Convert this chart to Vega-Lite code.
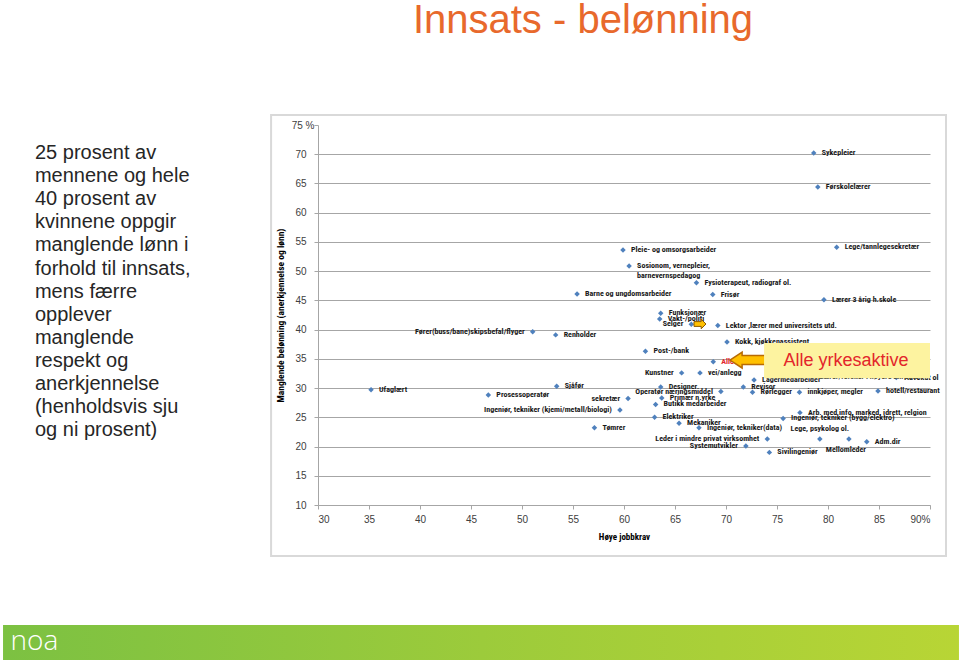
{
  "$schema": "https://vega.github.io/schema/vega-lite/v6.json",
  "width": 612,
  "height": 380,
  "autosize": {"type": "none"},
  "padding": {"left": 318, "top": 125, "right": 29, "bottom": 161},
  "background": "white",
  "config": {"view": {"stroke": null}, "font": "Liberation Sans"},
  "resolve": {"axis": {"x": "independent", "y": "independent"}},
  "datasets": {
    "jobs": [
      {"name": "Sykepleier", "x": 78.6, "y": 70.2},
      {"name": "Førskolelærer", "x": 79.0, "y": 64.4},
      {"name": "Lege/tannlegesekretær", "x": 80.85, "y": 54.1},
      {"name": "Pleie- og omsorgsarbeider", "x": 59.9, "y": 53.6},
      {"name": "Sosionom, vernepleier,\nbarnevernspedagog", "x": 60.5, "y": 50.9},
      {"name": "Fysioterapeut, radiograf ol.", "x": 67.1, "y": 48.0},
      {"name": "Barne og ungdomsarbeider", "x": 55.4, "y": 46.1},
      {"name": "Frisør", "x": 68.7, "y": 46.0},
      {"name": "Lærer 3 årig h.skole", "x": 79.6, "y": 45.1},
      {"name": "Funksjonær", "x": 63.6, "y": 42.8},
      {"name": "Vakt-/politi", "x": 63.5, "y": 41.8},
      {"name": "Selger", "x": 66.6, "y": 40.9},
      {"name": "Lektor ,lærer med universitets utd.", "x": 69.2, "y": 40.7},
      {"name": "Fører(buss/bane)skipsbefal/flyger", "x": 51.05, "y": 39.65},
      {"name": "Renholder", "x": 53.3, "y": 39.1},
      {"name": "Kokk, kjøkkenassistent", "x": 70.1, "y": 37.9},
      {"name": "Post-/bank", "x": 62.1, "y": 36.3},
      {"name": "Alle yrkesaktive", "x": 68.75, "y": 34.5},
      {"name": "Kunstner", "x": 65.65, "y": 32.6},
      {"name": "vei/anlegg", "x": 67.45, "y": 32.6},
      {"name": "Lærer/forsker i høyere univ.utd", "x": 78.4, "y": 31.9},
      {"name": "Advokat ol", "x": 86.7, "y": 31.8},
      {"name": "Lagermedarbeider", "x": 72.75, "y": 31.4},
      {"name": "Sjåfør", "x": 53.4, "y": 30.3},
      {"name": "Designer", "x": 63.6, "y": 30.2},
      {"name": "Revisor", "x": 71.7, "y": 30.2},
      {"name": "Ufaglært", "x": 35.2, "y": 29.7},
      {"name": "hotell/restaurant", "x": 84.9, "y": 29.5},
      {"name": "Operatør næringsmiddel", "x": 69.5, "y": 29.4},
      {"name": "Rørlegger", "x": 72.6, "y": 29.3},
      {"name": "innkjøper, megler", "x": 77.2, "y": 29.3},
      {"name": "Prosessoperatør", "x": 46.7, "y": 28.8},
      {"name": "Primær n.yrke", "x": 63.7, "y": 28.3},
      {"name": "sekretær", "x": 60.4, "y": 28.2},
      {"name": "Butikk medarbeider", "x": 63.1, "y": 27.2},
      {"name": "Ingeniør, tekniker (kjemi/metall/biologi)", "x": 59.6, "y": 26.25},
      {"name": "Arb. med info, marked, idrett, relgion", "x": 77.25, "y": 25.8},
      {"name": "Elektriker", "x": 63.0, "y": 25.0},
      {"name": "Ingeniør, tekniker (bygg/elektro)", "x": 75.6, "y": 24.8},
      {"name": "Mekaniker", "x": 65.4, "y": 24.0},
      {"name": "Ingeniør, tekniker(data)", "x": 67.35, "y": 23.2},
      {"name": "Tømrer", "x": 57.1, "y": 23.2},
      {"name": "Lege, psykolog ol.", "x": 79.2, "y": 21.3},
      {"name": "Mellomleder", "x": 82.05, "y": 21.3},
      {"name": "Leder i mindre privat virksomhet", "x": 74.05, "y": 21.3},
      {"name": "Adm.dir", "x": 83.8, "y": 20.8},
      {"name": "Systemutvikler", "x": 71.95, "y": 20.1},
      {"name": "Sivilingeniør", "x": 74.25, "y": 19.0}
    ]
  },
  "layer": [
    {
      "data": {"name": "jobs"},
      "mark": {"type": "point", "shape": "diamond", "filled": true, "size": 30, "color": "#4F81BD", "opacity": 1, "clip": false},
      "encoding": {
        "x": {
          "field": "x", "type": "quantitative", "title": "Høye jobbkrav",
          "scale": {"domain": [30, 90], "nice": false, "zero": false},
          "axis": {
            "values": [30, 35, 40, 45, 50, 55, 60, 65, 70, 75, 80, 85, 90],
            "labelExpr": "datum.value == 90 ? '90%' : datum.label",
            "grid": false, "domainColor": "#A6A6A6", "tickColor": "#A6A6A6", "tickSize": 4,
            "labelPadding": 5, "labelFontSize": 10, "labelColor": "#404040", "labelFont": "Liberation Sans",
            "titleFontSize": 9, "titleFontWeight": "bold", "titleColor": "#000000", "titlePadding": 8,
            "titleFont": "Liberation Sans Narrow, Roboto Condensed, DejaVu Sans Condensed, Liberation Sans"
          }
        },
        "y": {
          "field": "y", "type": "quantitative", "title": "Manglende belønning (anerkjennelse og lønn)",
          "scale": {"domain": [10, 75], "nice": false, "zero": false},
          "axis": {
            "values": [10, 15, 20, 25, 30, 35, 40, 45, 50, 55, 60, 65, 70, 75],
            "labelExpr": "datum.value == 75 ? '75 %' : datum.label",
            "labelOverlap": false,
            "grid": true, "gridColor": "#A6A6A6", "gridWidth": 1,
            "gridOpacity": {"condition": {"test": "datum.value == 75", "value": 0}, "value": 1},
            "domainColor": "#A6A6A6", "tickColor": "#A6A6A6", "tickSize": 4,
            "labelPadding": {"condition": {"test": "datum.value == 75", "value": 0}, "value": 8},
            "labelFontSize": 10, "labelColor": "#404040", "labelFont": "Liberation Sans",
            "titleFontSize": 9.5, "titleFontWeight": "bold", "titleColor": "#000000", "titlePadding": 6,
            "titleFont": "Liberation Sans Narrow, Roboto Condensed, DejaVu Sans Condensed, Liberation Sans"
          }
        }
      }
    },
    {
      "data": {"values": [{}]},
      "mark": {"type": "rect", "fill": "white", "fillOpacity": 0, "stroke": "#D9D9D9", "strokeWidth": 2, "clip": false},
      "encoding": {"x": {"datum": 25.4, "axis": null}, "x2": {"datum": 91.57}, "y": {"datum": 76.7, "axis": null}, "y2": {"datum": 1.27}}
    },
    {
      "data": {"values": [{}]},
      "mark": {
        "type": "rect", "clip": false,
        "fill": {"gradient": "linear", "x1": 0, "x2": 1, "y1": 0, "y2": 0,
          "stops": [{"offset": 0, "color": "#7CC142"}, {"offset": 0.5, "color": "#9CCB3B"}, {"offset": 1, "color": "#B8D535"}]}
      },
      "encoding": {"x": {"datum": -0.88, "axis": null}, "x2": {"datum": 92.84}, "y": {"datum": -10.53, "axis": null}, "y2": {"datum": -16.5}}
    },
    {
      "data": {"values": [{"label": "noa"}]},
      "mark": {"type": "text", "clip": false, "color": "white", "font": "Open Sans", "fontSize": 28, "fontWeight": 300, "align": "center", "baseline": "middle"},
      "encoding": {"x": {"datum": 2.2, "axis": null}, "y": {"datum": -13.4, "axis": null}, "text": {"field": "label"}}
    },
    {
      "data": {"values": [{"label": "Innsats - belønning"}]},
      "mark": {"type": "text", "clip": false, "color": "#E8692C", "font": "Liberation Sans", "fontSize": 40, "align": "center", "baseline": "alphabetic"},
      "encoding": {"x": {"datum": 55.98, "axis": null}, "y": {"datum": 90.74, "axis": null}, "text": {"field": "label"}}
    },
    {
      "data": {"values": [{"label": "25 prosent av\nmennene og hele\n40 prosent av\nkvinnene oppgir\nmanglende lønn i\nforhold til innsats,\nmens færre\nopplever\nmanglende\nrespekt og\nanerkjennelse\n(henholdsvis sju\nog ni prosent)"}]},
      "mark": {"type": "text", "clip": false, "color": "#262626", "font": "Liberation Sans", "fontSize": 20, "lineHeight": 23.1, "lineBreak": "\n", "align": "left", "baseline": "middle"},
      "encoding": {"x": {"datum": 2.25, "axis": null}, "y": {"datum": 70.2, "axis": null}, "text": {"field": "label"}}
    },
    {
      "data": {"name": "jobs"},
      "transform": [{"filter": {"not": {"field": "name", "oneOf": ["Fører(buss/bane)skipsbefal/flyger", "sekretær", "Ingeniør, tekniker (kjemi/metall/biologi)", "Selger", "Kunstner", "Operatør næringsmiddel", "Leder i mindre privat virksomhet", "Systemutvikler", "Lege, psykolog ol.", "Mellomleder", "Alle yrkesaktive"]}}}],
      "mark": {"type": "text", "clip": false, "align": "left", "baseline": "middle", "dx": 8, "fontSize": 8, "fontWeight": "bold", "color": "#1A1A1A", "lineBreak": "\n", "font": "Liberation Sans Narrow, Roboto Condensed, DejaVu Sans Condensed, Liberation Sans"},
      "encoding": {"x": {"field": "x", "type": "quantitative", "axis": null}, "y": {"field": "y", "type": "quantitative", "axis": null}, "text": {"field": "name"}}
    },
    {
      "data": {"name": "jobs"},
      "transform": [{"filter": {"field": "name", "oneOf": ["Fører(buss/bane)skipsbefal/flyger", "sekretær", "Ingeniør, tekniker (kjemi/metall/biologi)", "Selger", "Kunstner", "Operatør næringsmiddel", "Leder i mindre privat virksomhet", "Systemutvikler"]}}],
      "mark": {"type": "text", "clip": false, "align": "right", "baseline": "middle", "dx": -8, "fontSize": 8, "fontWeight": "bold", "color": "#1A1A1A", "font": "Liberation Sans Narrow, Roboto Condensed, DejaVu Sans Condensed, Liberation Sans"},
      "encoding": {"x": {"field": "x", "type": "quantitative", "axis": null}, "y": {"field": "y", "type": "quantitative", "axis": null}, "text": {"field": "name"}}
    },
    {
      "data": {"name": "jobs"},
      "transform": [{"filter": {"field": "name", "equal": "Lege, psykolog ol."}}],
      "mark": {"type": "text", "clip": false, "align": "center", "baseline": "middle", "dy": -10, "fontSize": 8, "fontWeight": "bold", "color": "#1A1A1A", "font": "Liberation Sans Narrow, Roboto Condensed, DejaVu Sans Condensed, Liberation Sans"},
      "encoding": {"x": {"field": "x", "type": "quantitative", "axis": null}, "y": {"field": "y", "type": "quantitative", "axis": null}, "text": {"field": "name"}}
    },
    {
      "data": {"name": "jobs"},
      "transform": [{"filter": {"field": "name", "equal": "Mellomleder"}}],
      "mark": {"type": "text", "clip": false, "align": "center", "baseline": "middle", "dy": 11, "dx": -3, "fontSize": 8, "fontWeight": "bold", "color": "#1A1A1A", "font": "Liberation Sans Narrow, Roboto Condensed, DejaVu Sans Condensed, Liberation Sans"},
      "encoding": {"x": {"field": "x", "type": "quantitative", "axis": null}, "y": {"field": "y", "type": "quantitative", "axis": null}, "text": {"field": "name"}}
    },
    {
      "data": {"name": "jobs"},
      "transform": [{"filter": {"field": "name", "equal": "Alle yrkesaktive"}}],
      "mark": {"type": "text", "clip": false, "align": "left", "baseline": "middle", "dx": 8, "fontSize": 8, "fontWeight": "bold", "color": "#E3262B", "font": "Liberation Sans Narrow, Roboto Condensed, DejaVu Sans Condensed, Liberation Sans"},
      "encoding": {"x": {"field": "x", "type": "quantitative", "axis": null}, "y": {"field": "y", "type": "quantitative", "axis": null}, "text": {"field": "name"}}
    },
    {
      "data": {"values": [{}]},
      "mark": {"type": "point", "clip": false, "filled": true, "shape": "M -1 0 L -0.36 -0.42 L -0.36 -0.24 L 1 -0.24 L 1 0.24 L -0.36 0.24 L -0.36 0.42 Z", "size": 1444, "fill": "#FFC000", "stroke": "#B86A04", "strokeWidth": 1.5, "opacity": 1},
      "encoding": {"x": {"datum": 72.25, "axis": null}, "y": {"datum": 34.8, "axis": null}}
    },
    {
      "data": {"values": [{}]},
      "mark": {"type": "point", "clip": false, "filled": true, "shape": "M 1 0 L 0.2 -0.8 L 0.2 -0.4 L -1 -0.4 L -1 0.4 L 0.2 0.4 L 0.2 0.8 Z", "size": 144, "fill": "#FFC000", "stroke": "#8A5A00", "strokeWidth": 1, "opacity": 1},
      "encoding": {"x": {"datum": 67.45, "axis": null}, "y": {"datum": 40.96, "axis": null}}
    },
    {
      "data": {"values": [{}]},
      "mark": {"type": "rect", "clip": false, "fill": "#FDF3A0", "opacity": 1},
      "encoding": {"x": {"datum": 73.73, "axis": null}, "x2": {"datum": 90}, "y": {"datum": 37.7, "axis": null}, "y2": {"datum": 31.7}}
    },
    {
      "data": {"values": [{"label": "Alle yrkesaktive"}]},
      "mark": {"type": "text", "clip": false, "color": "#E3262B", "font": "Liberation Sans", "fontSize": 18, "align": "center", "baseline": "middle"},
      "encoding": {"x": {"datum": 81.76, "axis": null}, "y": {"datum": 34.6, "axis": null}, "text": {"field": "label"}}
    }
  ]
}
